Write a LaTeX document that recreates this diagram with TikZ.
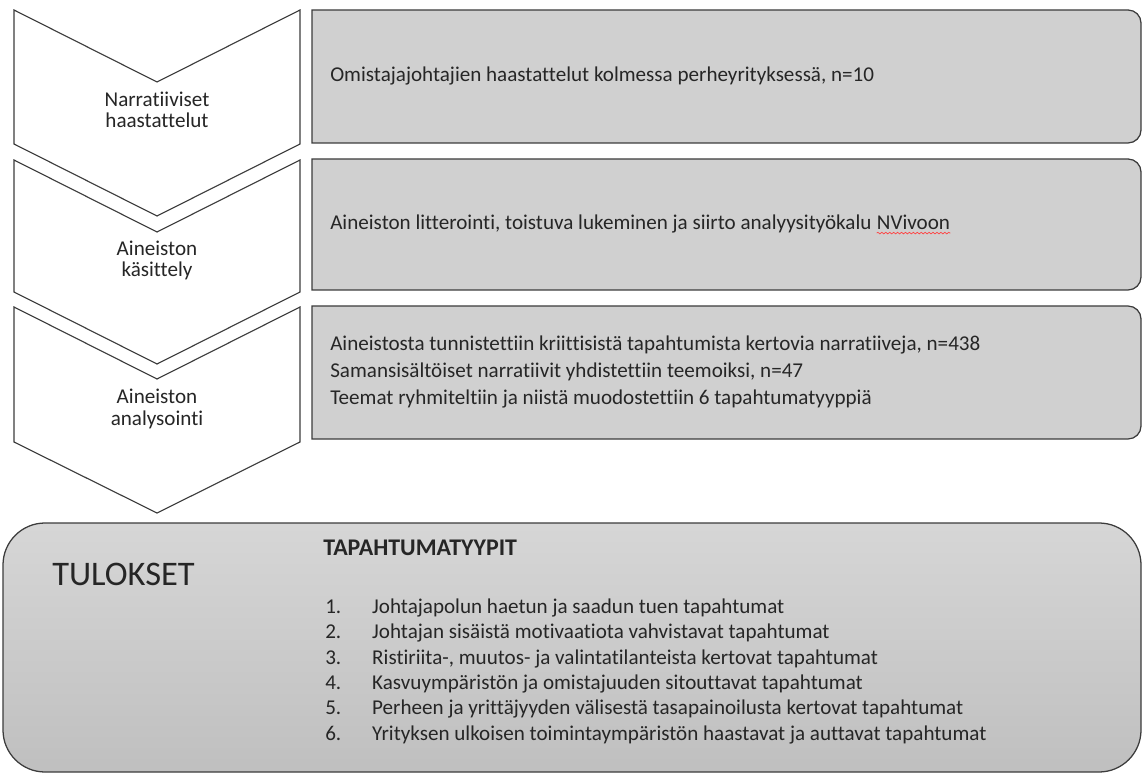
\documentclass[tikz,border=0pt]{standalone}
\usepackage{fontspec}
\setmainfont[Ligatures=NoCommon]{Carlito}
\usetikzlibrary{positioning, decorations.pathmorphing}

\definecolor{boxgrey}{HTML}{D0D0D0}
\definecolor{edgegrey}{HTML}{3C3C3C}
\definecolor{textgrey}{HTML}{262626}

\begin{document}
\begin{tikzpicture}[x=0.025cm, y=-0.025cm,
                    every node/.style={inner sep=0pt, text=textgrey},
                    phase/.style={draw=edgegrey, fill=white, line width=0.8pt},
                    stepbox/.style={draw=edgegrey, fill=boxgrey, line width=0.9pt},
                    resultbox/.style={draw=edgegrey, line width=0.9pt, rounded corners=1.05cm,
                                      top color=black!16, bottom color=black!25},
                    phaselabel/.style={anchor=base, align=center, font=\fontsize{15}{15.3pt}\selectfont},
                    boxlabel/.style={anchor=base west, align=left, font=\fontsize{15}{18.9pt}\selectfont},
                    spell/.style={draw=red!75, line width=0.5pt, decorate,
                                  decoration={snake, amplitude=0.55pt, segment length=2.8pt}}]

\useasboundingbox (0,0) rectangle (1142,773);

% Phases
\draw[phase] (14,10) -- (157,82) -- (300,10) -- (300,144) -- (157,216) -- (14,144) -- cycle;
\draw[phase] (14,160) -- (157,232) -- (300,160) -- (300,292) -- (157,364) -- (14,292) -- cycle;
\draw[phase] (14,307) -- (157,379) -- (300,307) -- (300,442) -- (157,513) -- (14,442) -- cycle;

% Boxes
\draw[stepbox] (312,10) -- (1128,10) arc[start angle=-90, end angle=0, radius=13]
  -- (1141,130) arc[start angle=0, end angle=90, radius=13] -- (312,143) -- cycle;
\draw[stepbox] (312,159) -- (1128,159) arc[start angle=-90, end angle=0, radius=13]
  -- (1141,277) arc[start angle=0, end angle=90, radius=13] -- (312,290) -- cycle;
\draw[stepbox] (312,306) -- (1128,306) arc[start angle=-90, end angle=0, radius=13]
  -- (1141,426) arc[start angle=0, end angle=90, radius=13] -- (312,439) -- cycle;
\draw[resultbox] (3,523) rectangle (1141,772);

% Nodes (base = last line)
\node (interview) [phaselabel] at (157,128) {Narratiiviset\\haastattelut};
\node (processing) [phaselabel] at (157,277) {Aineiston\\käsittely};
\node (analysis) [phaselabel] at (157,425) {Aineiston\\analysointi};

\node (interviewtext) [boxlabel] at (330,82) {Omistajajohtajien haastattelut kolmessa perheyrityksessä, n=10};
\node (processtext) [boxlabel] at (330,230) {Aineiston litterointi, toistuva lukeminen ja siirto analyysityökalu};
\node (nvivo) [boxlabel, right=3.4pt of processtext.base east, anchor=base west] {NVivoon};
\node (analysistext) [boxlabel] at (330,404) {Aineistosta tunnistettiin kriittisistä tapahtumista kertovia narratiiveja, n=438\\
  Samansisältöiset narratiivit yhdistettiin teemoiksi, n=47\\
  Teemat ryhmiteltiin ja niistä muodostettiin 6 tapahtumatyyppiä};

\node (results) [anchor=base west, font=\fontsize{24.5}{28}\selectfont] at (52,585) {TULOKSET};
\node (typetitle) [anchor=base west, font=\fontsize{17}{20}\selectfont\bfseries] at (323,555) {TAPAHTUMATYYPIT};
\node (typelist) [anchor=base west, align=left, font=\fontsize{15}{18pt}\selectfont] at (325,740) {%
  \makebox[33.4pt][l]{1.}Johtajapolun haetun ja saadun tuen tapahtumat\\
  \makebox[33.4pt][l]{2.}Johtajan sisäistä motivaatiota vahvistavat tapahtumat\\
  \makebox[33.4pt][l]{3.}Ristiriita-, muutos- ja valintatilanteista kertovat tapahtumat\\
  \makebox[33.4pt][l]{4.}Kasvuympäristön ja omistajuuden sitouttavat tapahtumat\\
  \makebox[33.4pt][l]{5.}Perheen ja yrittäjyyden välisestä tasapainoilusta kertovat tapahtumat\\
  \makebox[33.4pt][l]{6.}Yrityksen ulkoisen toimintaympäristön haastavat ja auttavat tapahtumat};

% Edges
\draw[spell] ([yshift=-2.2pt]nvivo.base west) -- ([yshift=-2.2pt]nvivo.base east);

\end{tikzpicture}
\end{document}
